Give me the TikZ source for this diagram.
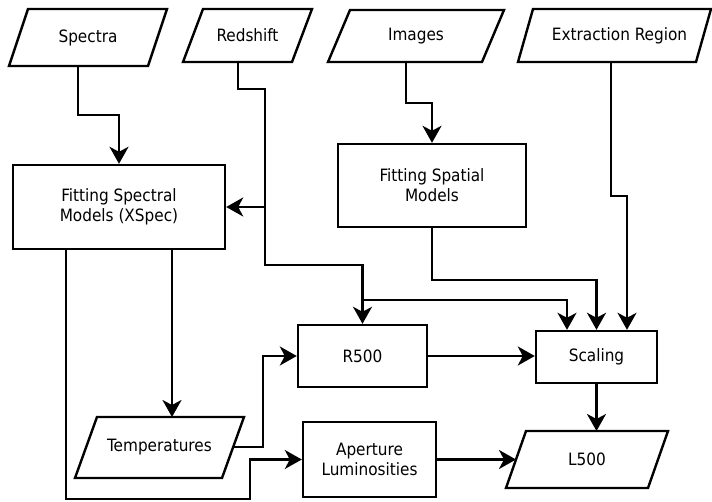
\documentclass[tikz,border=0pt]{standalone}
\usepackage{fontspec}
\setmainfont{DejaVu Sans Condensed}
\usetikzlibrary{arrows.meta,calc}
\newcommand\paradraw[2]{\draw[line width=2.4pt, line join=miter] ([xshift=#2]#1.north west) -- (#1.north east) -- ([xshift=-#2]#1.south east) -- (#1.south west) -- cycle;}
\begin{document}
\begin{tikzpicture}[x=1pt,y=-1pt,
  every node/.style={font=\fontsize{17}{20}\selectfont, align=center, inner sep=0pt},
  proc/.style={draw, line width=2.4pt},
  io/.style={outer sep=0pt},
  wire/.style={line width=2.4pt, line join=miter},
  arr/.style={wire, -{Stealth[length=17pt,width=19pt,inset=5pt]}}]
\useasboundingbox (0,0) rectangle (712,502);

% inputs / outputs (parallelograms)
\node[io, minimum width=158pt, minimum height=57pt] (spectra) at (88,37.5) {Spectra};
\node[io, minimum width=129pt, minimum height=53pt] (redshift) at (247.5,35.5) {Redshift};
\node[io, minimum width=176pt, minimum height=52pt] (images) at (416,36) {Images};
\node[io, minimum width=193pt, minimum height=53pt] (extract) at (614.5,35.5) {\hspace*{10pt}Extraction Region};
\node[io, minimum width=169pt, minimum height=61pt] (temps) at (159.5,447.5) {Temperatures};
\node[io, minimum width=162pt, minimum height=57pt] (l500) at (587,459.5) {L500};
\paradraw{spectra}{19pt}
\paradraw{redshift}{20pt}
\paradraw{images}{22pt}
\paradraw{extract}{15pt}
\paradraw{temps}{22pt}
\paradraw{l500}{20pt}

% processes
\node[proc, minimum width=212pt, minimum height=84pt] (fsm) at (119,207) {Fitting Spectral\\Models (XSpec)};
\node[proc, minimum width=188pt, minimum height=83pt] (fsp) at (432,185.5) {Fitting Spatial\\Models};
\node[proc, minimum width=129pt, minimum height=62pt] (r500) at (362.5,356) {R500};
\node[proc, minimum width=121pt, minimum height=52pt] (scaling) at (596.5,357) {Scaling};
\node[proc, minimum width=133pt, minimum height=75pt] (aper) at (369.5,459.5) {Aperture\\Luminosities};

% helper coordinates
\coordinate (rj) at (265,207);
\coordinate (rk) at (362.5,300);
\coordinate (t1) at ($(fsm.south)+(53,0)$);
\coordinate (t2) at ($(fsm.south)+(-53,0)$);
\coordinate (tr) at (233,447);
\coordinate (lw) at (516,459.5);

% connectors
\draw[arr] ([xshift=-10pt]spectra.south) -- ++(0,49) -| (fsm.north);
\draw[arr] ([xshift=-9.5pt]redshift.south) -- ++(0,27) -| (rj) -- (fsm.east);
\draw[arr] (rj) -- (265,265) -| (r500.north);
\draw[arr] (rk) -| ([xshift=-29.5pt]scaling.north);
\draw[arr] ([xshift=-10pt]images.south) -- ++(0,41) -| (fsp.north);
\draw[arr] (fsp.south) -- ++(0,52) -| (scaling.north);
\draw[arr] ([xshift=-3.5pt]extract.south) -- (611,196) -| ([xshift=30.5pt]scaling.north);
\draw[arr] (t1) -- (t1 |- temps.north);
\draw[arr] (t2) -- (66,499) -| (250,459.5) -- (aper.west);
\draw[arr] (tr) -- (263,447) |- (r500.west);
\draw[arr] (r500.east) -- (r500.east -| scaling.west);
\draw[arr] (scaling.south) -- (scaling.south |- l500.north);
\draw[arr] (aper.east) -- (lw);
\end{tikzpicture}
\end{document}
